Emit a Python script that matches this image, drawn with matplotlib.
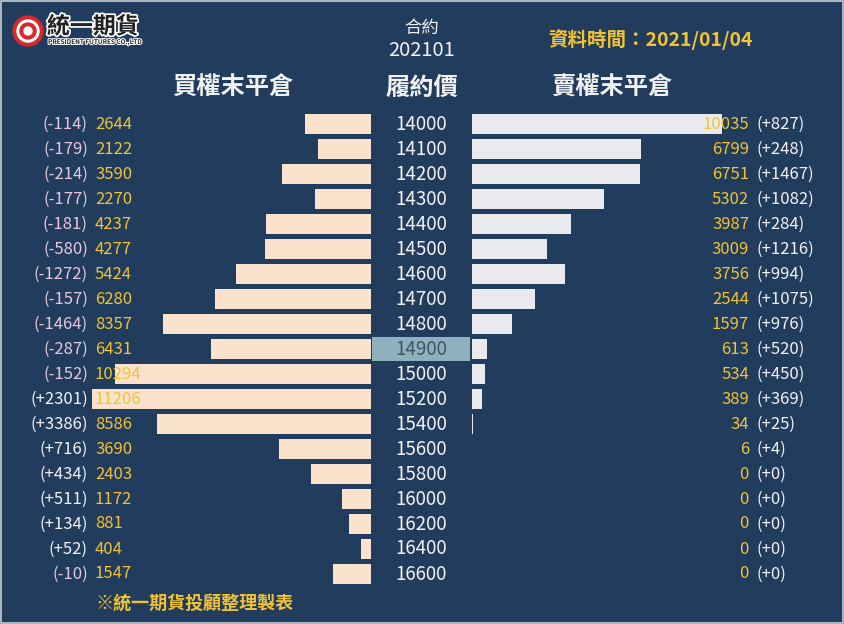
import matplotlib.pyplot as plt
from matplotlib.patches import Circle, Rectangle
from matplotlib.transforms import blended_transform_factory
import matplotlib.patheffects as pe

plt.rcParams['font.family'] = ['Noto Sans CJK TC', 'DejaVu Sans']

# 資料
strikes = [14000, 14100, 14200, 14300, 14400, 14500, 14600, 14700, 14800, 14900,
           15000, 15200, 15400, 15600, 15800, 16000, 16200, 16400, 16600]
call_oi = [2644, 2122, 3590, 2270, 4237, 4277, 5424, 6280, 8357, 6431,
           10294, 11206, 8586, 3690, 2403, 1172, 881, 404, 1547]
call_chg = [-114, -179, -214, -177, -181, -580, -1272, -157, -1464, -287,
            -152, 2301, 3386, 716, 434, 511, 134, 52, -10]
put_oi = [10035, 6799, 6751, 5302, 3987, 3009, 3756, 2544, 1597, 613,
          534, 389, 34, 6, 0, 0, 0, 0, 0]
put_chg = [827, 248, 1467, 1082, 284, 1216, 994, 1075, 976, 520,
           450, 369, 25, 4, 0, 0, 0, 0, 0]
atm_strike = 14900
contract = '202101'
data_date = '2021/01/04'

BG = '#223C5E'
YELLOW = '#EFC332'
PINK = '#E6C8DE'
WHITE = '#F2F2F2'

W, H = 844, 624
fig = plt.figure(figsize=(W / 100, H / 100), dpi=100, facecolor=BG)

n = len(strikes)
rows = list(range(n))
y0, y1 = 111.5, 586.5  # 像素範圍


def px_axes(x_left, x_right):
    return fig.add_axes([x_left / W, 1 - y1 / H, (x_right - x_left) / W, (y1 - y0) / H])


ax_l = px_axes(60, 371)
ax_m = px_axes(372, 470)
ax_r = px_axes(472, 783)
for ax in (ax_l, ax_m, ax_r):
    ax.set_ylim(n - 0.5, -0.5)
    ax.axis('off')
    ax.patch.set_alpha(0)

ax_l.set_xlim(12500, 0)
ax_r.set_xlim(0, 12500)
ax_m.set_xlim(0, 1)

ax_l.barh(rows, call_oi, height=0.82, color='#FBE2CC', linewidth=0)
ax_r.barh(rows, put_oi, height=0.82, color='#E8EAED', linewidth=0)

atm = strikes.index(atm_strike)
ax_m.barh([atm], [1], height=0.94, color='#8DB2BE')

# 文字
tr = blended_transform_factory(fig.transFigure, ax_l.transData)
for i in rows:
    ax_m.text(0.5, i, str(strikes[i]), ha='center', va='center', fontsize=13.5,
              color='#3E5566' if strikes[i] == atm_strike else WHITE)
    c = call_chg[i]
    ax_l.text(88 / W, i, f'({c:+d})', transform=tr, ha='right', va='center',
              fontsize=12, color=PINK if c < 0 else WHITE)
    ax_l.text(95 / W, i, str(call_oi[i]), transform=tr, ha='left', va='center',
              fontsize=12, color=YELLOW)
    ax_r.text(749 / W, i, str(put_oi[i]), transform=tr, ha='right', va='center',
              fontsize=12, color=YELLOW)
    p = put_chg[i]
    ax_r.text(756 / W, i, f'({p:+d})', transform=tr, ha='left', va='center',
              fontsize=12, color=PINK if p < 0 else WHITE)


def ftext(x, y, s, **kw):
    fig.text(x / W, 1 - y / H, s, **kw)


ftext(422, 28, '合約', ha='center', va='center', fontsize=12.5, color=WHITE)
ftext(422, 51, contract, ha='center', va='center', fontsize=14.5, color=WHITE)
ftext(650, 40, '資料時間：' + data_date, ha='center', va='center', fontsize=14,
      color=YELLOW, fontweight='bold')
ftext(233, 88, '買權末平倉', ha='center', va='center', fontsize=17.5, color=WHITE,
      fontweight='bold')
ftext(422, 88, '履約價', ha='center', va='center', fontsize=17.5, color=WHITE,
      fontweight='bold')
ftext(612, 88, '賣權末平倉', ha='center', va='center', fontsize=17.5, color=WHITE,
      fontweight='bold')
ftext(95, 603, '※統一期貨投顧整理製表', ha='left', va='center', fontsize=13,
      color=YELLOW, fontweight='bold')

# 商標
logo = fig.add_axes([0, 0, 1, 1])
logo.set_xlim(0, W)
logo.set_ylim(H, 0)
logo.axis('off')
logo.patch.set_alpha(0)
logo.add_patch(Circle((28, 31), 15, color='#D9272E'))
logo.add_patch(Circle((28, 31), 11, color='white'))
logo.add_patch(Circle((28, 31), 8, color='#D9272E'))
logo.add_patch(Circle((28, 31), 4, color='white'))
logo.text(47, 27, '統一期貨', fontsize=16.5, fontweight='bold', color='#222222', va='center',
          path_effects=[pe.withStroke(linewidth=2.5, foreground='white')])
logo.text(48, 42, 'PRESIDENT FUTURES CO.,LTD', fontsize=4.6, fontweight='bold',
          color='#222222', va='center',
          path_effects=[pe.withStroke(linewidth=1.5, foreground='white')])
logo.add_patch(Rectangle((1, 1), W - 2, H - 2, fill=False, edgecolor='#C8CCD2', linewidth=1.2))

fig.savefig('out.png', dpi=100, facecolor=BG)
